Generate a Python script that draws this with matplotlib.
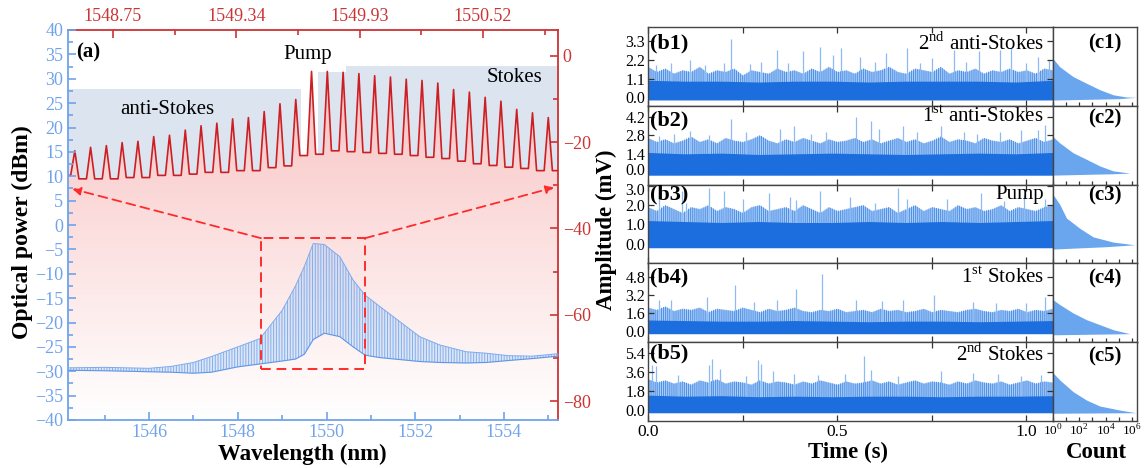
import numpy as np
import matplotlib
matplotlib.use("Agg")
import matplotlib.pyplot as plt
from matplotlib.colors import LinearSegmentedColormap
from matplotlib.patches import Rectangle
from matplotlib.ticker import NullFormatter
from matplotlib.transforms import ScaledTranslation

plt.rcParams["font.family"] = ["Liberation Serif", "DejaVu Serif"]
plt.rcParams["mathtext.fontset"] = "custom"
plt.rcParams["mathtext.rm"] = "Liberation Serif"
plt.rcParams["hatch.linewidth"] = 0.7

# ---------------- (a) optical spectrum ----------------
pump_wl = 1549.70          # nm, top axis
line_step = 0.0755         # nm, comb spacing
line_order = np.arange(-15, 16)
# peak levels of the zoomed comb (right axis, dB), anti-Stokes -> pump -> Stokes
peak_db = [-22.0, -21.2, -20.8, -20.1, -19.8, -18.7, -18.4, -17.2, -16.2, -15.6,
           -14.6, -14.3, -12.9, -11.1, -10.1,
           -3.6,
           -3.6, -3.8, -4.1, -4.6, -4.9, -5.4, -5.7, -6.3, -7.8, -8.4,
           -9.6, -10.5, -12.4, -13.2, -14.3]
# valleys: left edge, 30 gaps, right edge
valley_db = [-27.7,
             -28.5, -28.5, -28.5, -28.2, -28.2, -27.7, -27.7, -27.4, -27.0, -27.0,
             -26.6, -26.6, -25.9, -25.5, -23.1,
             -22.8, -22.0, -22.2, -22.4, -22.6, -22.8, -23.1, -23.5, -23.8, -24.4,
             -25.0, -25.4, -25.8, -26.1, -26.6,
             -26.6]

# wide spectrum (bottom / left axes, dBm): upper and lower envelope of the comb
blue_wl = [1544.17, 1545.0, 1546.0, 1546.5, 1547.0, 1547.4, 1548.0, 1548.5, 1549.0,
           1549.3, 1549.5, 1549.7, 1549.95, 1550.3, 1550.6, 1550.87, 1551.2, 1551.65,
           1552.1, 1552.55, 1553.15, 1553.6, 1554.1, 1554.64, 1555.22]
blue_top = [-29.3, -29.2, -29.4, -29.0, -28.2, -27.0, -25.0, -23.3, -17.5,
            -12.5, -8.5, -3.8, -4.0, -6.5, -11.3, -14.4, -16.7, -19.8,
            -22.9, -24.6, -26.0, -26.3, -26.8, -26.9, -26.4]
blue_bot = [-29.8, -29.9, -30.1, -30.2, -30.4, -30.2, -29.1, -28.5, -27.9,
            -27.5, -26.5, -23.5, -22.2, -22.9, -25.0, -26.7, -27.2, -27.6,
            -28.0, -28.2, -28.3, -28.2, -27.8, -27.4, -26.9]

# ---------------- (b) time traces / (c) histograms ----------------
names = ["2$^{\\mathrm{nd}}$ anti-Stokes", "1$^{\\mathrm{st}}$ anti-Stokes", "Pump",
         "1$^{\\mathrm{st}}$ Stokes", "2$^{\\mathrm{nd}}$ Stokes"]
y_lims = [(-0.51, 4.12), (-0.92, 4.99), (-1.01, 3.05), (-0.94, 5.97), (-1.01, 6.38)]
y_ticks = [[0.0, 1.1, 2.2, 3.3], [0.0, 1.4, 2.8, 4.2], [0.0, 1.0, 2.0, 3.0],
           [0.0, 1.6, 3.2, 4.8], [0.0, 1.8, 3.6, 5.4]]
floor_mv = [-0.15, -0.2, -0.2, -0.2, -0.25]
core_mv = [
    [1.0, 0.95, 0.95, 0.9, 0.95, 0.95, 0.9, 0.95, 0.95, 0.95, 0.9, 1.0],
    [1.5, 1.4, 1.45, 1.35, 1.4, 1.45, 1.4, 1.35, 1.4, 1.45, 1.4, 1.5],
    [1.2, 1.15, 1.1, 1.15, 1.1, 1.1, 1.15, 1.1, 1.15, 1.1, 1.15, 1.2],
    [1.0, 0.95, 0.9, 0.9, 0.95, 0.9, 0.85, 0.9, 0.9, 0.85, 0.9, 0.95],
    [1.4, 1.3, 1.35, 1.25, 1.3, 1.25, 1.3, 1.3, 1.25, 1.3, 1.3, 1.35],
]
fringe_mv = [
    [1.8, 1.5, 1.7, 1.4, 1.6, 1.5, 1.8, 1.4, 1.6, 1.5, 1.7, 1.3, 1.6, 1.5, 1.4, 1.7,
     1.5, 1.6, 1.4, 1.7, 1.5, 1.8, 1.5, 1.6, 1.4, 1.7, 1.5, 1.6, 1.8, 1.5, 1.4, 1.7,
     1.6, 1.5, 1.8, 1.4, 1.6, 1.5, 1.7, 1.4, 1.6, 1.5, 1.7, 1.5, 1.6, 1.4, 1.7, 1.6],
    [2.6, 2.3, 2.5, 2.2, 2.4, 2.7, 2.3, 2.5, 2.2, 2.6, 2.4, 2.3, 2.5, 2.8, 2.4, 2.2,
     2.5, 2.3, 2.6, 2.4, 2.2, 2.5, 2.3, 2.4, 2.6, 2.3, 2.5, 2.2, 2.4, 2.6, 2.3, 2.5,
     2.2, 2.4, 2.7, 2.3, 2.5, 2.4, 2.2, 2.6, 2.4, 2.3, 2.5, 2.2, 2.4, 2.6, 2.3, 2.5],
    [1.9, 1.7, 2.0, 1.8, 1.6, 1.9, 1.8, 2.0, 1.7, 1.9, 1.8, 1.6, 1.9, 2.0, 1.7, 1.8,
     1.9, 1.7, 2.0, 1.8, 1.6, 1.9, 1.7, 1.8, 1.9, 2.0, 1.7, 1.8, 1.9, 1.6, 1.8, 2.0,
     1.7, 1.9, 1.8, 1.7, 2.0, 1.8, 1.9, 1.7, 1.8, 2.0, 1.7, 1.9, 1.8, 1.7, 1.9, 2.0],
    [2.1, 1.9, 2.2, 1.8, 2.0, 1.9, 2.1, 1.7, 2.0, 1.9, 1.8, 2.1, 1.9, 1.7, 2.0, 1.8,
     1.9, 2.1, 1.8, 1.7, 1.9, 1.8, 2.0, 1.7, 1.8, 1.9, 1.7, 2.0, 1.8, 1.9, 1.7, 1.8,
     2.0, 1.7, 1.9, 1.8, 1.7, 1.9, 2.0, 1.8, 1.7, 1.9, 1.8, 2.0, 1.7, 1.9, 1.8, 2.0],
    [2.9, 2.6, 2.8, 2.5, 2.7, 2.4, 2.8, 2.6, 2.9, 2.5, 2.7, 2.6, 2.4, 2.8, 2.5, 2.7,
     2.6, 2.4, 2.7, 2.5, 2.8, 2.6, 2.4, 2.7, 2.5, 2.6, 2.8, 2.5, 2.7, 2.4, 2.6, 2.8,
     2.5, 2.7, 2.6, 2.4, 2.7, 2.5, 2.8, 2.6, 2.5, 2.7, 2.4, 2.6, 2.8, 2.5, 2.7, 2.6],
]
spike_t = [
    [0.02, 0.06, 0.11, 0.15, 0.20, 0.22, 0.27, 0.30, 0.34, 0.37, 0.41, 0.455, 0.49, 0.51,
     0.56, 0.60, 0.63, 0.685, 0.72, 0.75, 0.81, 0.84, 0.875, 0.93, 0.96, 1.00, 1.03, 1.06],
    [0.03, 0.07, 0.11, 0.16, 0.22, 0.26, 0.35, 0.385, 0.43, 0.47, 0.55, 0.59, 0.61, 0.675,
     0.71, 0.775, 0.835, 0.87, 0.93, 0.985, 1.03, 1.05],
    [0.03, 0.09, 0.10, 0.16, 0.20, 0.25, 0.32, 0.375, 0.39, 0.455, 0.535, 0.60, 0.66,
     0.685, 0.79, 0.88, 0.94, 0.995, 1.05],
    [0.03, 0.06, 0.155, 0.23, 0.28, 0.34, 0.39, 0.46, 0.55, 0.62, 0.675, 0.755, 0.86,
     0.92, 1.0, 1.05],
    [0.01, 0.02, 0.08, 0.16, 0.17, 0.19, 0.26, 0.29, 0.30, 0.33, 0.385, 0.45, 0.52, 0.57,
     0.59, 0.66, 0.775, 0.86, 0.925, 0.985, 1.04],
]
spike_mv = [
    [1.9, 2.0, 2.2, 1.9, 2.0, 3.45, 1.95, 2.1, 2.8, 2.0, 2.75, 2.95, 2.5, 2.9,
     2.4, 2.1, 2.6, 2.9, 2.0, 2.3, 2.8, 2.1, 2.7, 2.8, 2.9, 2.0, 2.4, 2.2],
    [2.7, 2.9, 3.1, 2.8, 4.0, 3.0, 3.3, 3.5, 2.9, 3.0, 4.2, 3.9, 3.3, 3.5,
     3.0, 3.5, 3.0, 2.9, 3.0, 3.2, 3.2, 3.6],
    [2.3, 2.7, 2.1, 2.9, 2.7, 2.3, 2.6, 2.4, 2.25, 2.7, 2.4, 2.1, 2.9,
     2.3, 2.3, 2.6, 2.2, 2.5, 2.3],
    [2.8, 2.8, 3.0, 4.1, 2.6, 2.8, 3.7, 5.0, 2.8, 2.7, 2.8, 3.2, 2.6,
     2.5, 2.5, 3.0],
    [4.2, 4.1, 3.3, 4.2, 4.8, 3.9, 3.2, 4.7, 4.3, 3.7, 3.4, 3.3, 3.4, 5.1,
     3.8, 3.2, 3.7, 3.5, 3.4, 3.2, 3.3],
]
hist_amp = [
    [-0.16, -0.08, 0.0, 0.02, 0.15, 0.45, 0.83, 1.22, 1.8, 2.3],
    [-0.2, -0.1, -0.05, 0.12, 0.49, 0.99, 1.48, 2.22, 2.71],
    [-0.27, -0.15, -0.05, 0.09, 0.36, 0.8, 1.33, 2.04, 2.57],
    [-0.3, -0.2, 0.15, 0.59, 1.03, 1.62, 2.36, 2.8],
    [-0.3, -0.25, 0.0, 0.38, 0.94, 1.73, 2.83, 3.52],
]
hist_logcount = [
    [0.0, 5.0, 6.3, 5.58, 4.57, 3.56, 2.55, 1.54, 0.53, 0.0],
    [0.0, 4.5, 5.83, 4.57, 3.56, 2.55, 1.54, 0.53, 0.0],
    [0.0, 4.0, 6.2, 4.57, 3.05, 2.05, 1.04, 0.53, 0.0],
    [0.0, 5.83, 4.57, 3.56, 2.55, 1.54, 0.53, 0.0],
    [0.0, 6.28, 5.07, 3.56, 2.55, 1.54, 0.53, 0.0],
]
count_ticks = [1, 1e2, 1e4, 1e6]
count_labels = ["$10^0$", "$10^2$", "$10^4$", "$10^6$"]

BLUE_AX = "#6fa3ea"
RED_AX = "#cc3333"
RED_LINE = "#cc1f24"
DASH_RED = "#ff2b2b"
BOX_BLUE = "#dce4f0"
CORE = "#1c6ddd"
FRINGE = "#5d9cec"
SPIKE = "#8dbaf2"
HIST = "#6aa6ee"

W, H = 1144, 468
fig = plt.figure(figsize=(W / 100, H / 100), dpi=100)

# ---------- panel (a) ----------
pos_a = [68 / W, 1 - 420 / H, 490 / W, 390 / H]
ax2 = fig.add_axes(pos_a)   # zoomed comb: top / right axes (red)
ax = fig.add_axes(pos_a)    # wide spectrum: bottom / left axes (blue)
ax2.set_zorder(1)
ax.set_zorder(2)
ax.patch.set_visible(False)

x2lim = (1548.535, 1550.879)
y2lim = (-84.4, 6.0)

peak_wl = pump_wl + line_step * line_order
xs, ys = [x2lim[0]], [valley_db[0]]
for i in range(len(peak_wl)):
    xs += [peak_wl[i] - 0.26 * line_step, peak_wl[i], peak_wl[i] + 0.26 * line_step]
    ys += [valley_db[i], peak_db[i], valley_db[i + 1]]
    if i < len(peak_wl) - 1:
        xs.append(peak_wl[i] + 0.5 * line_step)
        ys.append(valley_db[i + 1])
xs.append(x2lim[1])
ys.append(valley_db[-1])

# shaded regions
ax2.add_patch(Rectangle((x2lim[0], y2lim[0]), 1549.65 - x2lim[0], -7.6 - y2lim[0],
                        color=BOX_BLUE, lw=0, zorder=0.5))
ax2.add_patch(Rectangle((1549.73, y2lim[0]), x2lim[1] - 1549.73, -3.7 - y2lim[0],
                        color=BOX_BLUE, lw=0, zorder=0.5))
ax2.add_patch(Rectangle((1549.865, y2lim[0]), x2lim[1] - 1549.865, -2.3 - y2lim[0],
                        color=BOX_BLUE, lw=0, zorder=0.5))

# pink gradient under the red curve
poly = ax2.fill_between(xs, ys, y2lim[0], facecolor="none", edgecolor="none")
cmap = LinearSegmentedColormap.from_list("pk", ["#ffffff", "#fcdede", "#f6b8b8"])
grad = np.linspace(0, 1, 256).reshape(-1, 1)
img = ax2.imshow(grad, extent=[x2lim[0], x2lim[1], y2lim[0], y2lim[1]], origin="lower",
                 aspect="auto", cmap=cmap, zorder=1)
img.set_clip_path(poly.get_paths()[0], transform=ax2.transData)
ax2.plot(xs, ys, color=RED_LINE, lw=1.2, zorder=3)

ax2.set_xlim(*x2lim)
ax2.set_ylim(*y2lim)
ax2.xaxis.tick_top()
ax2.yaxis.tick_right()
ax2.set_xticks([1548.75, 1549.34, 1549.93, 1550.52])
ax2.set_xticklabels(["1548.75", "1549.34", "1549.93", "1550.52"])
ax2.set_xticks([1549.045, 1549.635, 1550.225, 1550.815], minor=True)
ax2.set_yticks([0, -20, -40, -60, -80])
ax2.set_yticks([-10, -30, -50, -70], minor=True)
ax2.tick_params(which="both", direction="in", colors=RED_AX, labelsize=13, width=1.2)
ax2.tick_params(which="major", length=6)
ax2.tick_params(which="minor", length=3.5)
for s in ["left", "bottom"]:
    ax2.spines[s].set_visible(False)
for s in ["top", "right"]:
    ax2.spines[s].set_color(RED_AX)
    ax2.spines[s].set_linewidth(1.3)

# wide spectrum comb
ax.fill_between(blue_wl, blue_bot, blue_top, color="#a9c9f5", alpha=0.35, lw=0, zorder=3)
ax.fill_between(blue_wl, blue_bot, blue_top, facecolor="none", edgecolor="#7fb0f0",
                hatch="||||||", lw=0, zorder=3)
ax.plot(blue_wl, blue_top, color="#7aabef", lw=0.7, zorder=3)
ax.plot(blue_wl, blue_bot, color="#5f97e8", lw=0.8, zorder=3)

# dashed zoom box and arrows
ax.add_patch(Rectangle((1548.52, -29.6), 2.35, 26.9, fill=False, ec=DASH_RED,
                       ls=(0, (5, 3)), lw=1.4, zorder=4))
for tip in [(1544.27, 7.4), (1555.13, 7.7)]:
    base = (1548.52, -2.7) if tip[0] < 1550 else (1550.87, -2.7)
    ax.annotate("", xy=tip, xytext=base,
                arrowprops=dict(arrowstyle="-|>", ls=(0, (5, 3)), color=DASH_RED,
                                lw=1.3, mutation_scale=12, shrinkA=0, shrinkB=0),
                zorder=4)

ax.set_xlim(1544.17, 1555.22)
ax.set_ylim(-40, 40)
ax.set_xticks([1546, 1548, 1550, 1552, 1554])
ax.set_xticks([1545, 1547, 1549, 1551, 1553, 1555], minor=True)
ax.set_yticks(np.arange(-40, 41, 5))
ax.set_yticks(np.arange(-37.5, 40, 5), minor=True)
ax.tick_params(which="both", direction="in", colors=BLUE_AX, labelsize=13, width=1.2)
ax.tick_params(which="major", length=6)
ax.tick_params(which="minor", length=3.5)
ax.tick_params(axis="x", pad=3)
for s in ["top", "right"]:
    ax.spines[s].set_visible(False)
for s in ["left", "bottom"]:
    ax.spines[s].set_color(BLUE_AX)
    ax.spines[s].set_linewidth(1.3)

ax.text(1544.35, 35.3, "(a)", fontsize=15, fontweight="bold", va="center", zorder=5)
ax.text(1546.4, 23.6, "anti-Stokes", fontsize=15, ha="center", va="center", zorder=5)
ax.text(1549.57, 34.9, "Pump", fontsize=15, ha="center", va="center", zorder=5)
ax.text(1554.23, 30.2, "Stokes", fontsize=15, ha="center", va="center", zorder=5)

fig.text(22 / W, 1 - 232 / H, "Optical power (dBm)", rotation=90, ha="center",
         va="center", fontsize=17, fontweight="bold")
fig.text(302 / W, 1 - 454 / H, "Wavelength (nm)", ha="center", va="center",
         fontsize=16.5, fontweight="bold")

# ---------- panels (b) and (c) ----------
row_top = 27.3
row_h = 78.7
bx0, bw = 648, 404.7
cx0, cw = 1052.7, 84.0
t_fringe = np.linspace(0, 1.07, 48)
t_core = np.linspace(0, 1.07, 12)
b_lab_dy = [16, 14, 9.3, 14.3, 11]
c_lab_dy = [16, 12.3, 11, 15.3, 14.4]
name_dy = [16, 10.7, 9.3, 14.3, 12.7]

for i in range(5):
    y0 = 1 - (row_top + row_h * (i + 1)) / H
    axb = fig.add_axes([bx0 / W, y0, bw / W, row_h / H])
    axc = fig.add_axes([cx0 / W, y0, cw / W, row_h / H])

    axb.fill_between(t_fringe, floor_mv[i], fringe_mv[i], color=FRINGE, lw=0,
                     alpha=0.5, zorder=1)
    axb.fill_between(t_fringe, floor_mv[i], fringe_mv[i], facecolor="none",
                     edgecolor="#4a8fe8", hatch="||||||||", lw=0, zorder=1)
    axb.fill_between(t_core, floor_mv[i], core_mv[i], color=CORE, lw=0, zorder=2)
    axb.vlines(spike_t[i], 0.5, spike_mv[i], color=SPIKE, lw=0.9, zorder=1.5)

    axb.set_xlim(0, 1.07)
    axb.set_ylim(*y_lims[i])
    axb.set_yticks(y_ticks[i])
    axb.set_yticklabels(["%.1f" % v for v in y_ticks[i]])
    axb.set_xticks([0, 0.5, 1.0])
    axb.set_xticks([0.25, 0.75], minor=True)
    axb.tick_params(which="both", direction="in", top=True, right=True,
                    labelsize=11.5, length=4, width=0.9, colors="#333333",
                    labelcolor="black", pad=2)
    axb.tick_params(axis="x", labelsize=12.5)
    if i < 4:
        axb.tick_params(axis="x", labelbottom=False)
    else:
        axb.set_xticklabels(["0.0", "0.5", "1.0"])
    # b2's "0.0" and b3's "3.0" meet at the shared edge: nudge them apart a little
    if i == 1:
        lab = axb.yaxis.get_major_ticks()[0].label1
        lab.set_transform(lab.get_transform() + ScaledTranslation(0, 3 / 100, fig.dpi_scale_trans))
    if i == 2:
        lab = axb.yaxis.get_major_ticks()[-1].label1
        lab.set_transform(lab.get_transform() + ScaledTranslation(0, -3 / 100, fig.dpi_scale_trans))
    for s in axb.spines.values():
        s.set_color("#444444")
        s.set_linewidth(1.0)

    axb.text(0.005, 1 - b_lab_dy[i] / row_h, "(b%d)" % (i + 1), transform=axb.transAxes,
             fontsize=16, fontweight="bold", va="center", ha="left", zorder=5)
    axb.text(0.978, 1 - name_dy[i] / row_h, names[i], transform=axb.transAxes,
             fontsize=15, va="center", ha="right", zorder=5)

    axc.fill_betweenx(hist_amp[i], 1, 10 ** np.array(hist_logcount[i]), color=HIST, lw=0)
    axc.set_xscale("log")
    axc.set_xlim(1, 10 ** 6.35)
    axc.set_ylim(*y_lims[i])
    axc.set_yticks([])
    axc.set_xticks(count_ticks)
    axc.set_xticks([10, 1e3, 1e5], minor=True)
    axc.xaxis.set_minor_formatter(NullFormatter())
    axc.tick_params(which="both", direction="in", length=3, width=0.9,
                    colors="#333333", labelcolor="black", labelsize=9.5, pad=2)
    if i < 4:
        axc.tick_params(axis="x", labelbottom=False)
    else:
        axc.set_xticklabels(count_labels)
    for s in axc.spines.values():
        s.set_color("#444444")
        s.set_linewidth(1.0)
    axc.text(0.62, 1 - c_lab_dy[i] / row_h, "(c%d)" % (i + 1), transform=axc.transAxes,
             fontsize=15, fontweight="bold", va="center", ha="center")

fig.text(606 / W, 1 - 230 / H, "Amplitude (mV)", rotation=90, ha="center", va="center",
         fontsize=16.5, fontweight="bold")
fig.text(848 / W, 1 - 452 / H, "Time (s)", ha="center", va="center",
         fontsize=16.5, fontweight="bold")
fig.text(1096 / W, 1 - 452 / H, "Count", ha="center", va="center",
         fontsize=16.5, fontweight="bold")

fig.savefig("out.png", dpi=100)
